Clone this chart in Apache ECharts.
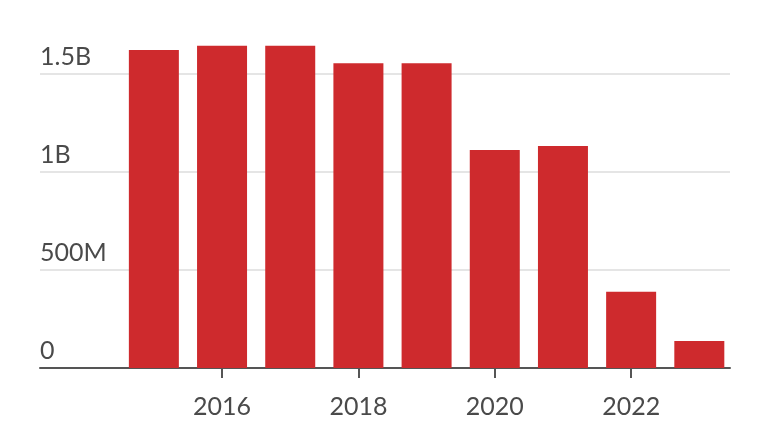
<!DOCTYPE html>
<html>
<head>
<meta charset="utf-8">
<script src="https://cdn.jsdelivr.net/npm/echarts@6/dist/echarts.min.js"></script>
<style>html,body{margin:0;padding:0;background:#fff}#c{width:770px;height:433px}</style>
</head>
<body>
<div id="c"></div>
<script>
var years = [2015, 2016, 2017, 2018, 2019, 2020, 2021, 2022, 2023];
var values = [1.622e9, 1.644e9, 1.644e9, 1.555e9, 1.555e9, 1.112e9, 1.133e9, 0.389e9, 0.138e9];
var xTickLabels = [2016, 2018, 2020, 2022];
var yTickLabels = {0: '0', 500000000: '500M', 1000000000: '1B', 1500000000: '1.5B'};

var chart = echarts.init(document.getElementById('c'));
chart.setOption({
  animation: false,
  grid: {left: 40, right: 40, top: 25, bottom: 65},
  xAxis: {
    type: 'value',
    min: 2013.33,
    max: 2023.45,
    splitLine: {show: false},
    axisLine: {show: true, lineStyle: {color: '#555', width: 2}},
    axisTick: {show: true, customValues: xTickLabels, length: 10, lineStyle: {color: '#555', width: 2}},
    axisLabel: {customValues: xTickLabels, color: '#4a4a4a', fontSize: 25, fontFamily: 'Lato', margin: 26,
      formatter: function (v) { return String(v); }}
  },
  yAxis: {
    type: 'value',
    min: 0,
    max: 1.75e9,
    interval: 5e8,
    axisLine: {show: false},
    axisTick: {show: false},
    splitLine: {showMaxLine: false, lineStyle: {color: '#ddd', width: 1.5}},
    axisLabel: {
      inside: true, margin: 0, align: 'left', verticalAlign: 'bottom',
      padding: [0, 0, 5, 0], showMaxLabel: false,
      color: '#4a4a4a', fontSize: 25, fontFamily: 'Lato',
      formatter: function (v) { return yTickLabels[v] !== undefined ? yTickLabels[v] : ''; }
    }
  },
  series: [{
    type: 'bar',
    barWidth: 50,
    itemStyle: {color: '#CE2A2D'},
    data: years.map(function (y, i) { return [y, values[i]]; })
  }]
});
</script>
</body>
</html>
